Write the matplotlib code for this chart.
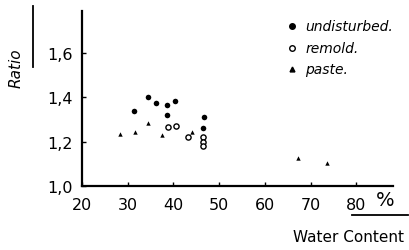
import matplotlib.pyplot as plt

# Data
undisturbed_x = [31.3, 34.5, 36.2, 38.7, 40.4, 38.5, 46.7, 46.5]
undisturbed_y = [1.34, 1.40, 1.375, 1.365, 1.385, 1.32, 1.31, 1.26]

remold_x = [38.8, 40.5, 43.1, 46.5, 46.5, 46.5]
remold_y = [1.265, 1.27, 1.22, 1.22, 1.20, 1.18]

paste_x = [28.4, 31.5, 34.5, 37.5, 44.1, 67.3, 73.6]
paste_y = [1.237, 1.246, 1.286, 1.23, 1.244, 1.126, 1.106]

xticks = [20, 30, 40, 50, 60, 70, 80]
yticks = [1.0, 1.2, 1.4, 1.6]
ytick_labels = ["1,0", "1,2", "1,4", "1,6"]

fig = plt.figure(figsize=(4.1, 2.51), dpi=100)
ax = fig.add_axes([0.2, 0.255, 0.758, 0.697])

ax.scatter(undisturbed_x, undisturbed_y, s=16, c="black", marker="o", linewidths=0)
ax.scatter(remold_x, remold_y, s=14, facecolors="white", edgecolors="black",
           marker="o", linewidths=1.0)
ax.scatter(paste_x, paste_y, s=10, c="black", marker="^", linewidths=0)

ax.set_xlim(20, 88)
ax.set_ylim(1.0, 1.79)
ax.set_xticks(xticks)
ax.set_yticks(yticks)
ax.set_yticklabels(ytick_labels)
ax.tick_params(direction="in", length=3, width=1, labelsize=11.5)
ax.tick_params(axis="x", pad=8)
ax.tick_params(axis="y", pad=7)

for side in ["top", "right"]:
    ax.spines[side].set_visible(False)
for side in ["left", "bottom"]:
    ax.spines[side].set_linewidth(1.6)

# legend drawn by hand
leg_items = [("undisturbed.", "o", "black"), ("remold.", "o", "white"), ("paste.", "^", "black")]
for i, (name, m, fc) in enumerate(leg_items):
    yy = 0.892 - i * 0.086
    fig.lines.append(plt.Line2D([0.712], [yy], marker=m, markersize=4 if m == "o" else 3.5,
                                markerfacecolor=fc, markeredgecolor="black",
                                linestyle="none", transform=fig.transFigure))
    fig.text(0.745, yy, name, fontsize=10, style="italic", va="center", ha="left")

# axis labels
fig.text(0.04, 0.73, "Ratio", rotation=90, fontsize=11, style="italic",
         ha="center", va="center")
fig.lines.append(plt.Line2D([0.08, 0.08], [0.73, 0.972], color="black", lw=1.3,
                            transform=fig.transFigure))
fig.text(0.94, 0.2, "%", fontsize=14, ha="center", va="center")
fig.lines.append(plt.Line2D([0.858, 0.995], [0.14, 0.14], color="black", lw=1.3,
                            transform=fig.transFigure))
fig.text(0.85, 0.055, "Water Content", fontsize=11, ha="center", va="center")

fig.savefig("out.png", dpi=100)
